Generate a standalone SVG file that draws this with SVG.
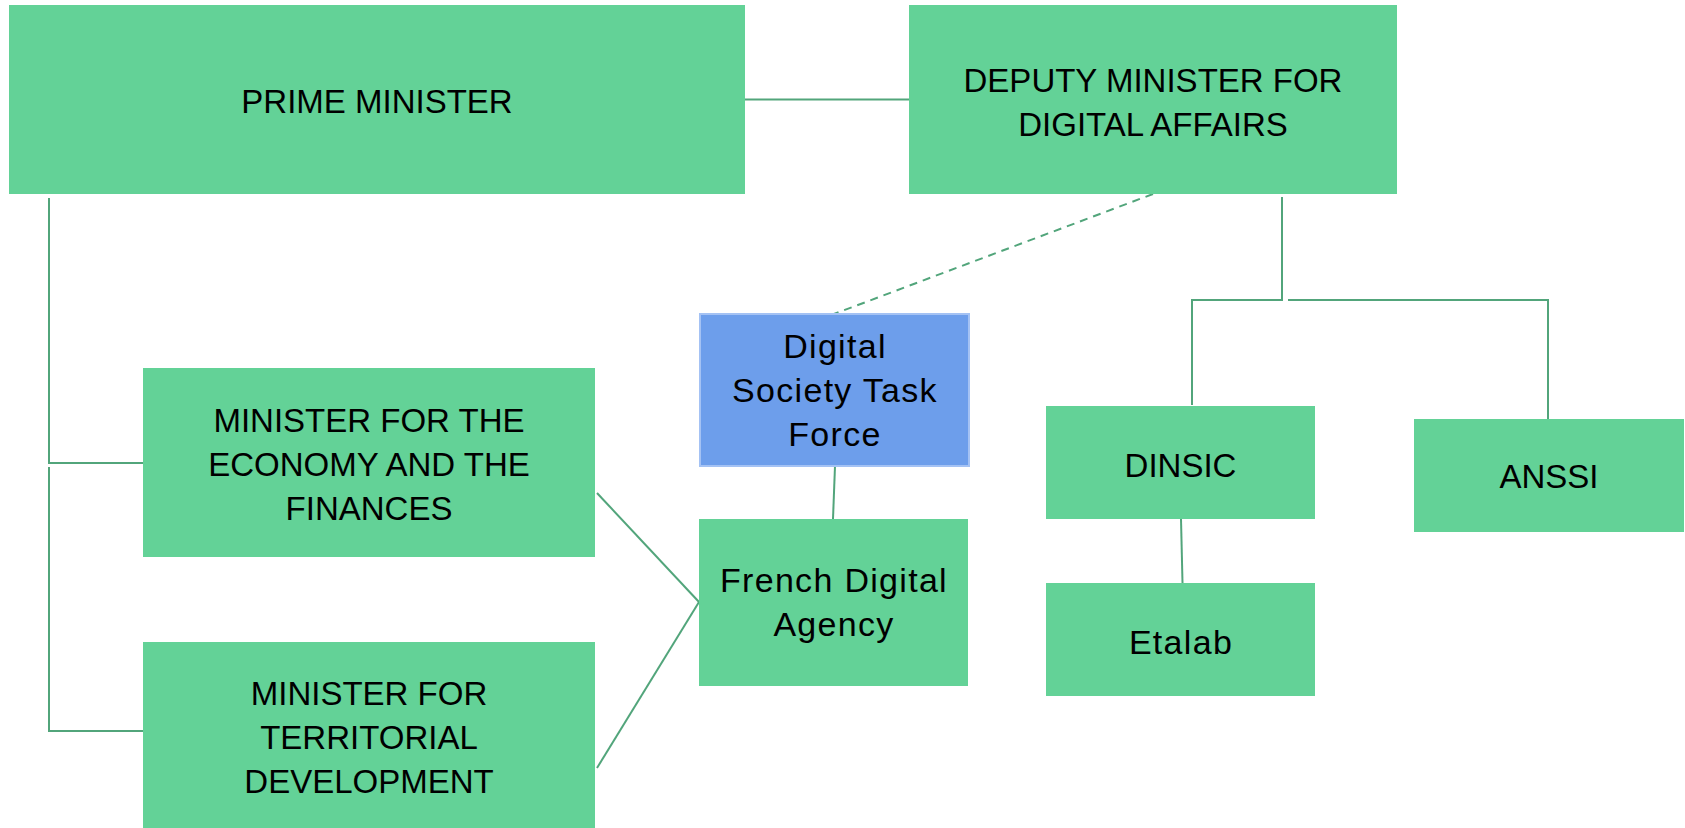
<svg xmlns="http://www.w3.org/2000/svg" width="1685" height="828" viewBox="0 0 1685 828">
<style>
.box{fill:#63d297;}
.blue{fill:#6d9eeb;stroke:#a4c2f4;stroke-width:2;}
.t{font-family:"Liberation Sans",Arial,sans-serif;font-size:33px;fill:#000;text-anchor:middle;}
.m{font-size:34px;letter-spacing:1.3px;}
.ln{fill:none;stroke:#52a57b;stroke-width:2;}
.dash{fill:none;stroke:#52a57b;stroke-width:2;stroke-dasharray:8 6;}
</style>
<rect width="1685" height="828" fill="#fff"/>
<g id="connectors">
<line class="ln" x1="745" y1="99.5" x2="909" y2="99.5"/>
<path class="ln" d="M49 198 V463 H143"/>
<path class="ln" d="M49 467 V731 H143"/>
<line class="ln" x1="597" y1="493" x2="699" y2="602"/>
<line class="ln" x1="597" y1="768" x2="699" y2="602"/>
<line class="ln" x1="835" y1="466" x2="833" y2="519"/>
<line class="dash" x1="1153" y1="194" x2="834" y2="314"/>
<path class="ln" d="M1282 197 V300 H1192 V405"/>
<path class="ln" d="M1288 300 H1548 V419"/>
<line class="ln" x1="1181" y1="519" x2="1182.5" y2="583"/>
</g>
<g id="prime-minister">
<rect class="box" x="9" y="5" width="736" height="189"/>
<text class="t" x="377" y="113">PRIME MINISTER</text>
</g>
<g id="deputy-minister">
<rect class="box" x="909" y="5" width="488" height="189"/>
<text class="t" x="1153" y="92">DEPUTY MINISTER FOR</text>
<text class="t" x="1153" y="136">DIGITAL AFFAIRS</text>
</g>
<g id="task-force">
<rect class="blue" x="700" y="314" width="269" height="152"/>
<text class="t m" x="835" y="358">Digital</text>
<text class="t m" x="835" y="402">Society Task</text>
<text class="t m" x="835" y="446">Force</text>
</g>
<g id="economy">
<rect class="box" x="143" y="368" width="452" height="189"/>
<text class="t" x="369" y="432">MINISTER FOR THE</text>
<text class="t" x="369" y="476">ECONOMY AND THE</text>
<text class="t" x="369" y="520">FINANCES</text>
</g>
<g id="territorial">
<rect class="box" x="143" y="642" width="452" height="186"/>
<text class="t" x="369" y="705">MINISTER FOR</text>
<text class="t" x="369" y="749">TERRITORIAL</text>
<text class="t" x="369" y="793">DEVELOPMENT</text>
</g>
<g id="french-digital-agency">
<rect class="box" x="699" y="519" width="269" height="167"/>
<text class="t m" x="834" y="592">French Digital</text>
<text class="t m" x="834" y="636">Agency</text>
</g>
<g id="dinsic">
<rect class="box" x="1046" y="406" width="269" height="113"/>
<text class="t" x="1180.5" y="477">DINSIC</text>
</g>
<g id="etalab">
<rect class="box" x="1046" y="583" width="269" height="113"/>
<text class="t m" x="1181" y="654">Etalab</text>
</g>
<g id="anssi">
<rect class="box" x="1414" y="419" width="270" height="113"/>
<text class="t" x="1549" y="488">ANSSI</text>
</g>
</svg>
